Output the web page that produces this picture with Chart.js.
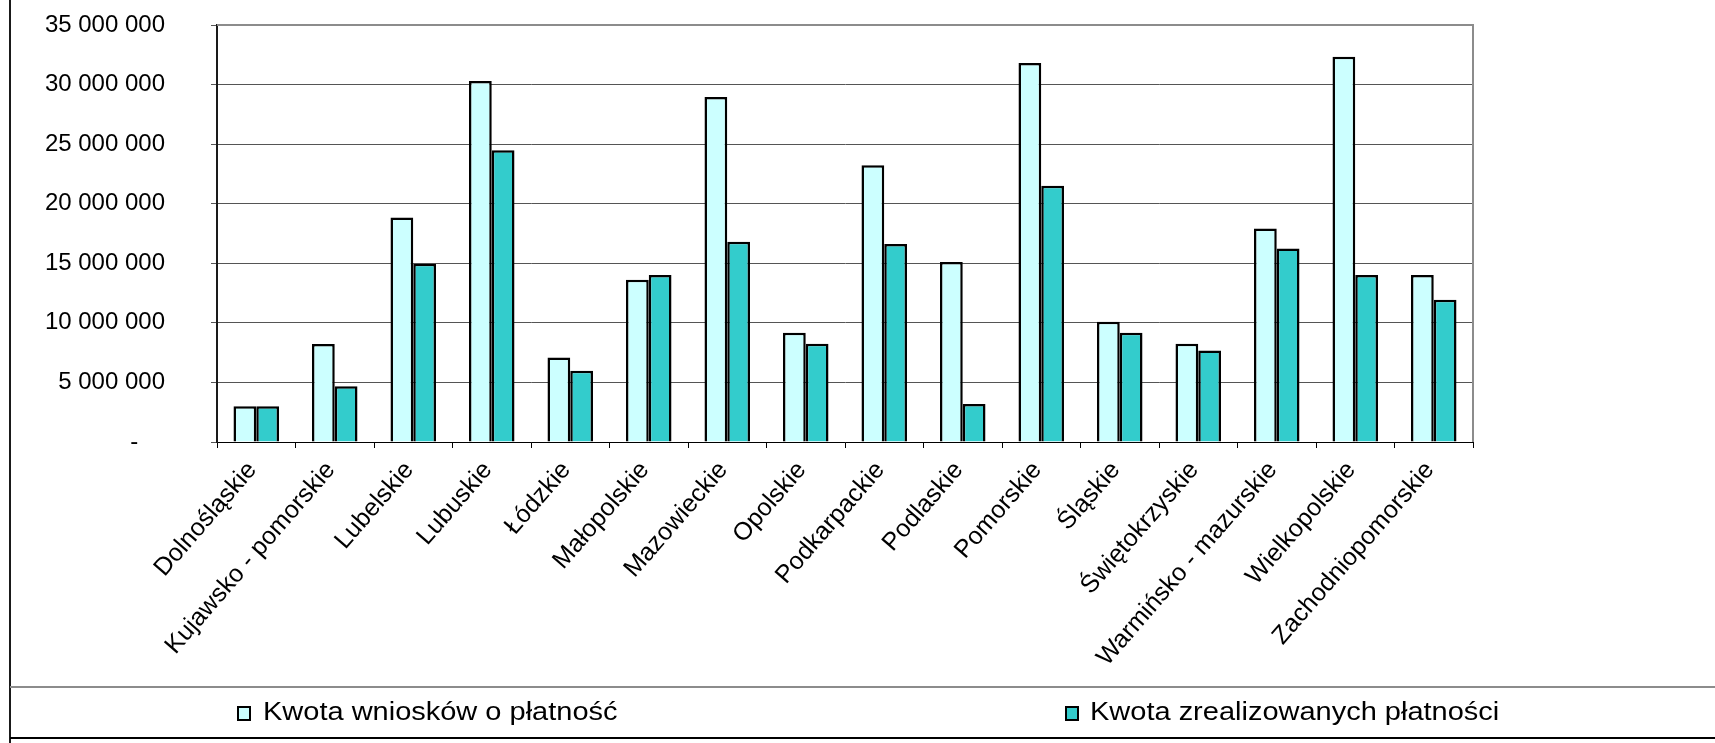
<!DOCTYPE html>
<html lang="pl">
<head>
<meta charset="utf-8">
<title>Kwota wniosków o płatność</title>
<script src="https://cdn.jsdelivr.net/npm/chart.js@4.4.0/dist/chart.umd.min.js"></script>
<style>
  html, body { margin: 0; padding: 0; background: #fff; }
  #wrap { position: relative; width: 1715px; height: 743px; overflow: hidden;
          font-family: 'Liberation Sans', Arial, sans-serif; color: #000; }
  #chart { position: absolute; left: 0; top: 0; }
  #frameLeft { position: absolute; left: 9px; top: 0; width: 2px; height: 743px; background: #1a1a1a; }
  #legendBox { position: absolute; left: 10px; top: 686px; width: 1705px; height: 53px;
               box-sizing: border-box; border-top: 2px solid #8c8c8c; border-bottom: 2px solid #000; }
  .swatch { position: absolute; top: 706px; width: 10px; height: 11px; border: 2px solid #000; }
  .label { position: absolute; top: 698px; font-size: 26px; line-height: 26px; white-space: nowrap;
           transform: scaleX(1.115); transform-origin: 0 0; }
</style>
</head>
<body>
<div id="wrap">
  <canvas id="chart" width="1715" height="686"></canvas>
  <div id="frameLeft"></div>
  <div id="legendBox"></div>
  <div class="swatch" id="sw1" style="left:237px"></div>
  <div class="label" id="lb1" style="left:263px"></div>
  <div class="swatch" id="sw2" style="left:1065px"></div>
  <div class="label" id="lb2" style="left:1090px"></div>
</div>
<script>
  // categories
  var regions = ['Dolnośląskie', 'Kujawsko - pomorskie', 'Lubelskie', 'Lubuskie', 'Łódzkie',
    'Małopolskie', 'Mazowieckie', 'Opolskie', 'Podkarpackie', 'Podlaskie', 'Pomorskie',
    'Śląskie', 'Świętokrzyskie', 'Warmińsko - mazurskie', 'Wielkopolskie', 'Zachodniopomorskie'];

  // series values
  var kwotaWnioskow = [3000000, 8220000, 18850000, 30300000, 7100000, 13620000, 28960000, 9170000,
    23220000, 15100000, 31810000, 10100000, 8250000, 17930000, 32340000, 14020000];
  var kwotaZrealizowanych = [3000000, 4670000, 14960000, 24480000, 5980000, 14020000, 16810000, 8250000,
    16620000, 3190000, 21510000, 9170000, 7680000, 16250000, 14020000, 11940000];

  var seriesNames = ['Kwota wniosków o płatność', 'Kwota zrealizowanych płatności'];

  // y axis ticks
  var yMax = 35000000;
  var yStep = 5000000;

  var colorLight = '#ccffff';
  var colorTeal = '#33cccc';

  document.getElementById('lb1').textContent = seriesNames[0];
  document.getElementById('lb2').textContent = seriesNames[1];
  document.getElementById('sw1').style.background = colorLight;
  document.getElementById('sw2').style.background = colorTeal;

  function formatNumber(v) {
    if (v === 0) return '-    ';
    return String(v).replace(/\B(?=(\d{3})+(?!\d))/g, ' ');
  }

  // gray top/right frame of the plot area
  var plotFrame = {
    id: 'plotFrame',
    beforeDatasetsDraw: function (chart) {
      var a = chart.chartArea;
      var c = chart.ctx;
      c.save();
      c.strokeStyle = '#8c8c8c';
      c.lineWidth = 2;
      c.beginPath();
      c.moveTo(a.left, a.top);
      c.lineTo(a.right, a.top);
      c.lineTo(a.right, a.bottom);
      c.stroke();
      c.restore();
    }
  };

  var ctx = document.getElementById('chart').getContext('2d');
  var myChart = new Chart(ctx, {
    type: 'bar',
    data: {
      labels: regions,
      datasets: [{
        label: seriesNames[0],
        data: kwotaWnioskow,
        backgroundColor: colorLight,
        borderColor: '#000',
        borderWidth: 2.5,
        categoryPercentage: 0.58,
        barPercentage: 1.0
      }, {
        label: seriesNames[1],
        data: kwotaZrealizowanych,
        backgroundColor: colorTeal,
        borderColor: '#000',
        borderWidth: 2.5,
        categoryPercentage: 0.58,
        barPercentage: 1.0
      }]
    },
    plugins: [plotFrame],
    options: {
      responsive: false,
      animation: false,
      layout: {
        padding: { left: 0, top: 25, right: 242, bottom: 0 }
      },
      plugins: {
        legend: { display: false },
        tooltip: { enabled: false }
      },
      scales: {
        x: {
          grid: {
            display: true,
            drawOnChartArea: false,
            offset: true,
            color: '#000',
            tickLength: 6
          },
          border: { color: '#000', width: 1 },
          ticks: {
            autoSkip: false,
            minRotation: 49,
            maxRotation: 49,
            padding: 8,
            labelOffset: -4,
            color: '#000',
            font: { family: "'Liberation Sans', Arial, sans-serif", size: 25 }
          },
          afterFit: function (scale) { scale.height = 244; }
        },
        y: {
          min: 0,
          max: yMax,
          grid: { color: '#555', lineWidth: 1, tickLength: 6 },
          border: { color: '#1a1a1a', width: 2 },
          ticks: {
            stepSize: yStep,
            padding: 46,
            color: '#000',
            font: { family: "'Liberation Sans', Arial, sans-serif", size: 24 },
            callback: function (value) { return formatNumber(value); }
          },
          afterFit: function (scale) {
            scale.width = 217;
            // the large label gap should not push the plot area down
            scale.paddingTop = 0;
            scale.paddingBottom = 0;
          }
        }
      }
    }
  });
</script>
</body>
</html>
